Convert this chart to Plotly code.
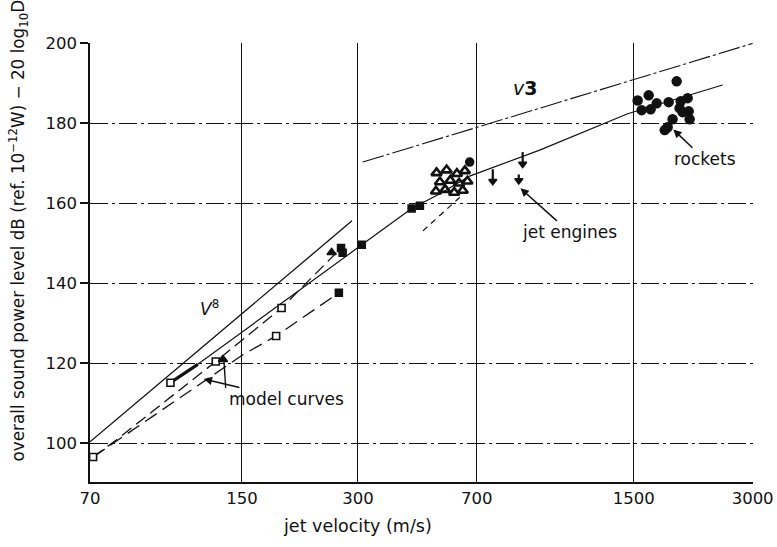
import numpy as np
import plotly.graph_objects as go

# ---------------- data ----------------
# The reference's printed velocity labels are not evenly placed on its log scale;
# the gridlines are put where the reference draws them and carry its printed labels.
X_TICK_POS = [70, 173, 345, 700, 1782, 3617]
X_TICK_TEXT = ["70", "150", "300", "700", "1500", "3000"]
Y_TICKS = [100, 120, 140, 160, 180, 200]

# V^8 reference line
V8_V = [70, 333]
V8_DB = [100.3, 155.6]
# V^3 reference line
V3_V = [355, 3617]
V3_DB = [170.3, 200.0]

# main curve: model jets -> jet engines -> rockets
MAIN_V = [113, 133, 353, 475, 562, 671, 1018, 1719, 3024]
MAIN_DB = [115.1, 119.7, 149.6, 158.7, 162.4, 166.8, 173.3, 182.4, 189.6]
MAIN_THICK_V = [113, 133]
MAIN_THICK_DB = [115.1, 119.7]

# model curves (dashed)
M2_V = [71.3, 81.7, 148, 219, 312]
M2_DB = [96.5, 100.7, 120.4, 133.8, 148.8]
M3_V = [71.3, 174, 212, 308]
M3_DB = [96.5, 122.1, 126.8, 137.6]
# short dashed line under the jet-engine cluster
JD_V = [508, 633]
JD_DB = [153.1, 161.5]

# markers
OPEN_SQ_V = [71.3, 113, 148, 212, 219]
OPEN_SQ_DB = [96.5, 115.1, 120.4, 126.8, 133.8]
FILL_SQ_V = [308, 312, 315, 353, 475, 499]
FILL_SQ_DB = [137.6, 148.8, 147.6, 149.6, 158.7, 159.4]
FILL_TRI_V = [154.5, 295]
FILL_TRI_DB = [120.9, 147.7]

JET_V = [551, 585, 622, 652, 562, 598, 630, 662, 549, 580, 612, 644]
JET_DB = [167.6, 168.3, 167.4, 168.1, 165.3, 165.7, 165.0, 165.5, 163.0, 163.4, 162.7, 163.2]
JET_DOWN_V = [770, 899, 920]
JET_DOWN_DB = [165.5, 165.7, 169.8]
JET_DOWN_TAIL = [3.0, 1.5, 3.0]
JET_DOT_V = [671]
JET_DOT_DB = [170.3]

ROCKET_V = [1824, 1948, 2043, 1868, 1971, 2194, 2301, 2357, 2457, 2341,
            2384, 2472, 2486, 2246, 2181, 2143]
ROCKET_DB = [185.7, 187.0, 185.0, 183.3, 183.5, 185.3, 190.5, 185.5, 186.3, 183.8,
             182.8, 183.0, 181.0, 181.0, 179.0, 178.3]

# second "model curves" pointer (tail -> head)
MC_PTR_V = [157, 155.4]
MC_PTR_DB = [113.8, 120.6]

FONT = "DejaVu Sans"
INK = "#111111"

fig = go.Figure()


def line(xs, ys, width=1.3, dash="solid"):
    fig.add_trace(go.Scatter(x=xs, y=ys, mode="lines",
                             line=dict(color=INK, width=width, dash=dash),
                             hoverinfo="skip", showlegend=False))


def marks(xs, ys, symbol, size, lw=1.5, color=INK, **kw):
    fig.add_trace(go.Scatter(x=xs, y=ys, mode="markers",
                             marker=dict(symbol=symbol, size=size, color=color,
                                         line=dict(color=INK, width=lw)),
                             hoverinfo="skip", showlegend=False, **kw))


line(V8_V, V8_DB, 1.3)
line(V3_V, V3_DB, 1.1, "22px,3px,3px,3px")
line(MAIN_V, MAIN_DB, 1.2)
line(MAIN_THICK_V, MAIN_THICK_DB, 3.2)
line(M2_V, M2_DB, 1.3, "12px,6px")
line(M3_V, M3_DB, 1.3, "14px,7px")
line(JD_V, JD_DB, 1.2, "6px,5px")
line(MC_PTR_V, MC_PTR_DB, 1.4)

marks(OPEN_SQ_V, OPEN_SQ_DB, "square", 7, 1.6, color="white")
marks(FILL_SQ_V, FILL_SQ_DB, "square", 7)
marks(FILL_TRI_V, FILL_TRI_DB, "triangle-up", 8)
marks(JET_V, JET_DB, "triangle-up-open", 9, 2.6)
marks(JET_DOWN_V, JET_DOWN_DB, "triangle-down", 7,
      error_y=dict(type="data", array=JET_DOWN_TAIL, arrayminus=[0] * len(JET_DOWN_V),
                   thickness=2.2, width=0, color=INK))
marks(JET_DOT_V, JET_DOT_DB, "circle", 8)
marks(ROCKET_V, ROCKET_DB, "circle", 9)

L = np.log10


def pointer(text, head_v, head_db, text_v, text_db, size=17):
    fig.add_annotation(x=L(head_v), y=head_db, ax=L(text_v), ay=text_db,
                       xref="x", yref="y", axref="x", ayref="y",
                       text=text, showarrow=True, arrowhead=2, arrowsize=1.1,
                       arrowwidth=1.5, arrowcolor=INK, standoff=1,
                       font=dict(family=FONT, size=size, color=INK))


def label(v, db, text, size=17):
    fig.add_annotation(x=L(v), y=db, xref="x", yref="y", text=text, showarrow=False,
                       font=dict(family=FONT, size=size, color=INK))


pointer("rockets", 2246, 178.6, 2716, 171.0)
pointer("jet engines", 904, 163.9, 1217, 152.7)
pointer("model curves", 137, 116.1, 226, 111.0)

label(143, 133.7, "<i>V</i><sup>8</sup>", 17)
label(931, 188.9, "<i>v</i><b>3</b>", 19)

fig.add_annotation(xref="paper", yref="paper", x=-0.108, y=0.574, textangle=-90,
                   xanchor="center", yanchor="middle",
                   text="overall sound power level dB (ref. 10<sup>−12</sup>W) − 20 log<sub>10</sub>D",
                   showarrow=False, font=dict(family=FONT, size=16.8, color=INK))
fig.add_annotation(xref="paper", yref="paper", x=0.403, y=-0.1, xanchor="center",
                   yanchor="middle", text="jet velocity (m/s)", showarrow=False,
                   font=dict(family=FONT, size=17.5, color=INK))

fig.update_xaxes(type="log", range=[L(70), L(3625)], automargin=False,
                 tickmode="array", tickvals=X_TICK_POS, ticktext=X_TICK_TEXT,
                 showgrid=True, gridcolor=INK, gridwidth=1.3,
                 showline=True, linecolor=INK, linewidth=1.5,
                 ticks="", zeroline=False,
                 tickfont=dict(family=FONT, size=16.5, color=INK))
fig.update_yaxes(range=[90.25, 200.1], automargin=False,
                 tickmode="array", tickvals=Y_TICKS,
                 showgrid=True, gridcolor=INK, gridwidth=1.2,
                 griddash="18px,4px,3px,4px",
                 showline=True, linecolor=INK, linewidth=1.5,
                 ticks="outside", ticklen=8, tickcolor=INK, tickwidth=1.5,
                 zeroline=False,
                 tickfont=dict(family=FONT, size=16.5, color=INK))

fig.update_layout(width=777, height=547,
                  margin=dict(l=90, r=24, t=43, b=65),
                  paper_bgcolor="white", plot_bgcolor="white",
                  showlegend=False)

fig.write_html("out.html", config={"displayModeBar": False},
               post_script="document.body.style.margin='0';document.body.style.overflow='hidden';")
